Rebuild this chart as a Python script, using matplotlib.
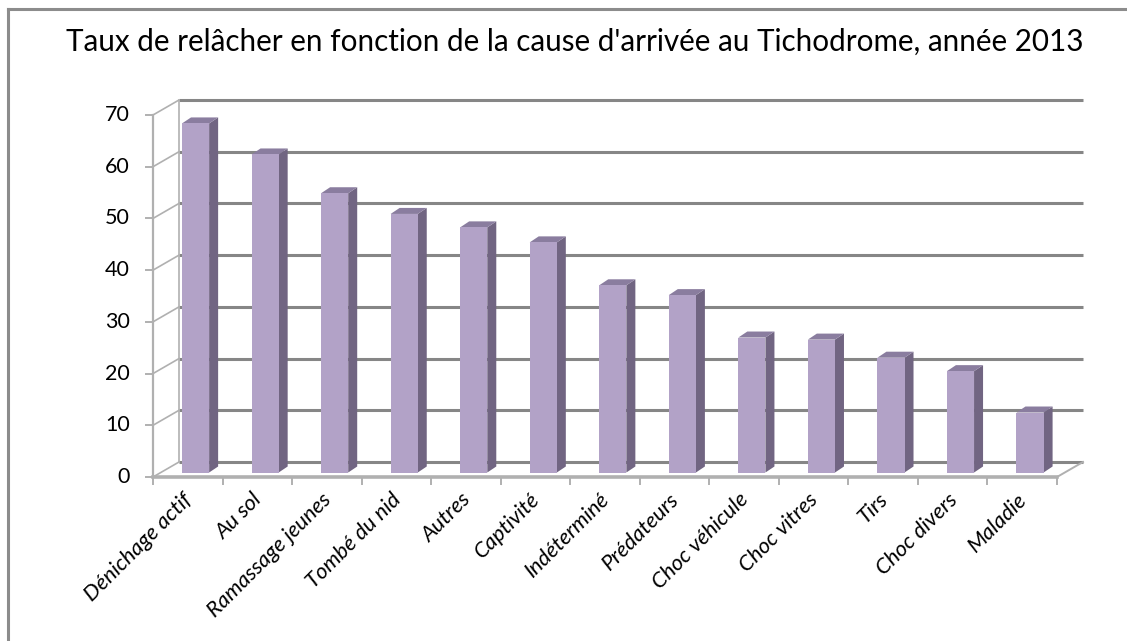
import matplotlib
matplotlib.use("Agg")
import matplotlib.pyplot as plt
from matplotlib.patches import Polygon
from matplotlib.lines import Line2D

categories = ["Dénichage actif", "Au sol", "Ramassage jeunes", "Tombé du nid",
              "Autres", "Captivité", "Indéterminé", "Prédateurs",
              "Choc véhicule", "Choc vitres", "Tirs", "Choc divers", "Maladie"]
values = [67.5, 61.5, 54.0, 50.0, 47.4, 44.5, 36.2, 34.3, 26.1, 25.7, 22.2, 19.6, 11.6]
yticks = [0, 10, 20, 30, 40, 50, 60, 70]
title = "Taux de relâcher en fonction de la cause d'arrivée au Tichodrome, année 2013"

FRONT = "#b2a2c7"
SIDE = "#716582"
TOP = "#8a7d9f"
GRID = "#868686"
AXIS = "#b0b0b0"

plt.rcParams['font.family'] = ['Lato', 'DejaVu Sans']

W, H = 1127, 641
fig = plt.figure(figsize=(W / 100, H / 100), dpi=100)

# frame around the chart area
fig.add_artist(Line2D([8 / W, 8 / W], [0, 1 - 9 / H], transform=fig.transFigure,
                      color="#8c8c8c", lw=2.2))
fig.add_artist(Line2D([8 / W, 1], [1 - 9 / H, 1 - 9 / H], transform=fig.transFigure,
                      color="#8c8c8c", lw=2.2))

fig.text(575 / W, 1 - 42 / H, title, ha="center", va="center", fontsize=21.3, color="#000000")

# front plane of the 3D box, in pixels
x0p, x1p = 153, 1057
y0p, y1p = 477, 115
ax = fig.add_axes([x0p / W, 1 - y0p / H, (x1p - x0p) / W, (y0p - y1p) / H])
n = len(categories)
ax.set_xlim(0, n)
ax.set_ylim(0, 70)
ax.axis("off")

px_x = (x1p - x0p) / n
px_y = (y0p - y1p) / 70
dx = 26 / px_x      # depth of the floor in data units
dy = 15 / px_y

# back wall gridlines + left wall slants
for v in yticks:
    ax.plot([dx, n + dx], [v + dy, v + dy], color=GRID, lw=2.2, zorder=1,
            clip_on=False, solid_capstyle="butt")
    ax.plot([0, dx], [v, v + dy], color=AXIS, lw=1.2, zorder=1, clip_on=False)
ax.plot([dx, dx], [dy, 70 + dy], color=AXIS, lw=1.2, zorder=1, clip_on=False)

# front axes
ax.plot([0, 0], [0, 70], color=AXIS, lw=1.6, zorder=2, clip_on=False)
ax.plot([0, n], [0, 0], color=AXIS, lw=2.6, zorder=2, clip_on=False)
ax.plot([n, n + dx], [0, dy], color=AXIS, lw=1.4, zorder=2, clip_on=False)
tk = 7 / px_x
for v in yticks:
    ax.plot([-tk, 0], [v, v], color=AXIS, lw=1.4, zorder=2, clip_on=False)
    ax.text(-0.33, v, str(v), ha="right", va="center", fontsize=15.5, color="#000000")
tky = 7 / px_y
for i in range(n + 1):
    ax.plot([i, i], [0, -tky], color=AXIS, lw=1.4, zorder=2, clip_on=False)

# bars
f = 0.3
w = 0.39
bdx = 9 / px_x
bdy = 6 / px_y
for i, v in enumerate(values):
    xa = i + 0.5 + f * dx - w / 2
    xb = xa + w
    ya = f * dy
    yb = ya + v
    ax.add_patch(Polygon([(xb, ya), (xb + bdx, ya + bdy), (xb + bdx, yb + bdy), (xb, yb)],
                         closed=True, facecolor=SIDE, edgecolor="none", zorder=3, clip_on=False))
    ax.add_patch(Polygon([(xa, yb), (xb, yb), (xb + bdx, yb + bdy), (xa + bdx, yb + bdy)],
                         closed=True, facecolor=TOP, edgecolor="none", zorder=3, clip_on=False))
    ax.add_patch(Polygon([(xa, ya), (xb, ya), (xb, yb), (xa, yb)],
                         closed=True, facecolor=FRONT, edgecolor="none", zorder=4, clip_on=False))

for i, lab in enumerate(categories):
    ax.text(i + 0.42, -2.4, lab, rotation=45, rotation_mode="anchor", ha="right", va="top",
            fontsize=15.8, style="italic", color="#000000")

fig.savefig("out.png", dpi=100)
